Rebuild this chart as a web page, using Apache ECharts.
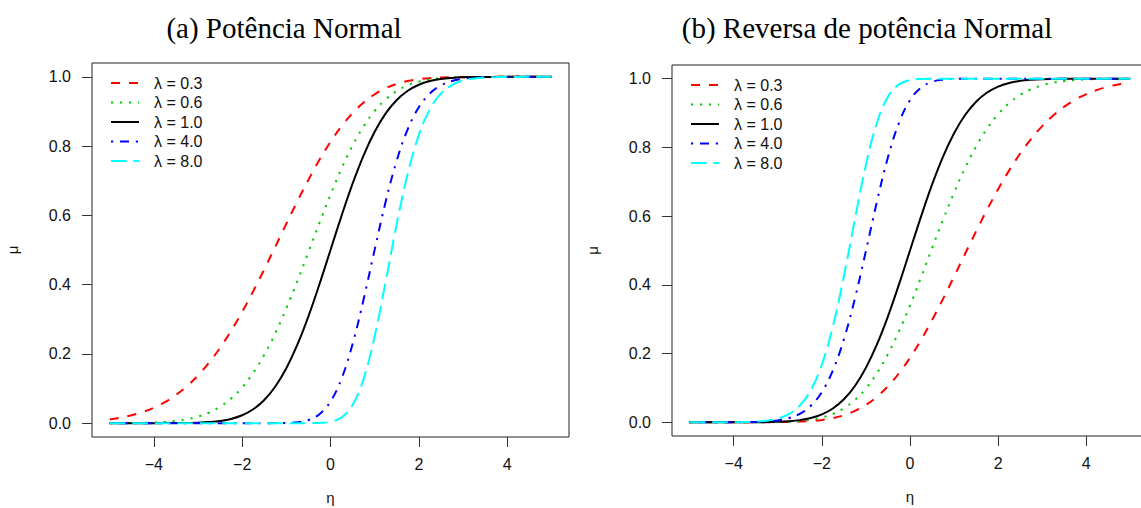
<!DOCTYPE html>
<html><head><meta charset="utf-8">
<script src="https://cdn.jsdelivr.net/npm/echarts@6/dist/echarts.min.js"></script>
<style>html,body{margin:0;padding:0;background:#fff}#c{width:1141px;height:508px}</style>
</head><body><div id="c"></div>
<script>
const eta = [-5,-4.75,-4.5,-4.25,-4,-3.75,-3.5,-3.25,-3,-2.75,-2.5,-2.25,-2,-1.75,-1.5,-1.25,-1,-0.75,-0.5,-0.25,0,0.25,0.5,0.75,1,1.25,1.5,1.75,2,2.25,2.5,2.75,3,3.25,3.5,3.75,4,4.25,4.5,4.75,5];
const lambdaLabels = ['λ = 0.3','λ = 0.6','λ = 1.0','λ = 4.0','λ = 8.0'];
const panelTitles = ['(a) Potência Normal','(b) Reversa de potência Normal'];
const xTicks = [-4,-2,0,2,4];
const yTicks = [0,0.2,0.4,0.6,0.8,1.0];

// Panel (a): Potência Normal
const pn03 = [0.0109,0.0159,0.0229,0.0323,0.0447,0.0608,0.0813,0.1067,0.1378,0.1747,0.2177,0.2668,0.3214,0.3809,0.4441,0.5095,0.5757,0.6407,0.7027,0.7604,0.8123,0.8574,0.8952,0.9258,0.9495,0.9670,0.9795,0.9878,0.9931,0.9963,0.9981,0.9991,0.9996,0.9998,0.9999,1,1,1,1,1,1];
const pn06 = [0.0001,0.0003,0.0005,0.0010,0.0020,0.0037,0.0066,0.0114,0.0190,0.0305,0.0474,0.0712,0.1033,0.1451,0.1972,0.2596,0.3314,0.4105,0.4938,0.5782,0.6598,0.7351,0.8014,0.8571,0.9016,0.9351,0.9594,0.9758,0.9862,0.9926,0.9962,0.9982,0.9992,0.9996,0.9998,0.9999,1,1,1,1,1];
const pn10 = [0,0,0,0,0,0.0001,0.0002,0.0006,0.0013,0.0030,0.0062,0.0122,0.0228,0.0401,0.0668,0.1057,0.1587,0.2266,0.3085,0.4013,0.5000,0.5987,0.6915,0.7734,0.8413,0.8944,0.9332,0.9599,0.9772,0.9878,0.9938,0.9970,0.9987,0.9994,0.9998,0.9999,1,1,1,1,1];
const pn40 = [0,0,0,0,0,0,0,0,0,0,0,0,0,0,0,0.0001,0.0006,0.0026,0.0091,0.0259,0.0625,0.1285,0.2286,0.3577,0.5011,0.6398,0.7584,0.8491,0.9121,0.9520,0.9754,0.9881,0.9946,0.9977,0.9991,0.9996,0.9999,1,1,1,1];
const pn80 = [0,0,0,0,0,0,0,0,0,0,0,0,0,0,0,0,0,0,0.0001,0.0007,0.0039,0.0165,0.0523,0.1280,0.2511,0.4093,0.5751,0.7210,0.8319,0.9063,0.9514,0.9764,0.9893,0.9954,0.9982,0.9993,0.9998,0.9999,1,1,1];

// Panel (b): Reversa de potência Normal
const rpn03 = [0,0,0,0,0,0,0.0001,0.0002,0.0004,0.0009,0.0019,0.0037,0.0069,0.0122,0.0205,0.0330,0.0505,0.0742,0.1048,0.1426,0.1877,0.2396,0.2973,0.3593,0.4243,0.4905,0.5559,0.6191,0.6786,0.7332,0.7823,0.8253,0.8622,0.8933,0.9187,0.9392,0.9553,0.9677,0.9771,0.9841,0.9891];
const rpn06 = [0,0,0,0,0,0.0001,0.0002,0.0004,0.0008,0.0018,0.0038,0.0074,0.0138,0.0242,0.0406,0.0649,0.0984,0.1429,0.1986,0.2649,0.3402,0.4218,0.5062,0.5895,0.6686,0.7404,0.8028,0.8549,0.8967,0.9288,0.9526,0.9695,0.9810,0.9886,0.9934,0.9963,0.9980,0.9990,0.9995,0.9997,0.9999];
const rpn10 = [0,0,0,0,0,0.0001,0.0002,0.0006,0.0013,0.0030,0.0062,0.0122,0.0228,0.0401,0.0668,0.1057,0.1587,0.2266,0.3085,0.4013,0.5000,0.5987,0.6915,0.7734,0.8413,0.8944,0.9332,0.9599,0.9772,0.9878,0.9938,0.9970,0.9987,0.9994,0.9998,0.9999,1,1,1,1,1];
const rpn40 = [0,0,0,0,0.0001,0.0004,0.0009,0.0023,0.0054,0.0119,0.0246,0.0480,0.0879,0.1509,0.2416,0.3602,0.4989,0.6423,0.7714,0.8715,0.9375,0.9741,0.9909,0.9974,0.9994,0.9999,1,1,1,1,1,1,1,1,1,1,1,1,1,1,1];
const rpn80 = [0,0,0,0.0001,0.0002,0.0007,0.0018,0.0046,0.0107,0.0236,0.0486,0.0937,0.1681,0.2790,0.4249,0.5907,0.7489,0.8720,0.9477,0.9835,0.9961,0.9993,0.9999,1,1,1,1,1,1,1,1,1,1,1,1,1,1,1,1,1,1];

const panelSeries = [[pn03,pn06,pn10,pn40,pn80],[rpn03,rpn06,rpn10,rpn40,rpn80]];
const colors = ['#FF0000','#00CD00','#000000','#0000FF','#00FFFF'];
const dashes = [[9,9],[2.2,6.8],'solid',[2.2,6.8,9,6.8],[15.7,6.8]];

const SANS = '"Liberation Sans", Arial, Helvetica, sans-serif';
const SERIF = '"Liberation Serif", "Times New Roman", serif';

const grids = [
  {left: 92, top: 63, width: 477, height: 374},
  {left: 672, top: 65, width: 476, height: 371}
];

function fmtX(v){ return v < 0 ? '\u2212' + Math.abs(v) : String(v); }

const xAxes = [], yAxes = [], series = [], legends = [];
grids.forEach((g, p) => {
  xAxes.push({
    type: 'value', gridIndex: p, min: -5.4, max: 5.4, position: 'bottom',
    name: 'η', nameLocation: 'middle', nameGap: 53,
    nameTextStyle: {fontFamily: SANS, fontSize: 15, color: '#111'},
    axisLine: {show: false, onZero: false},
    axisTick: {show: true, inside: false, length: 10, customValues: xTicks, lineStyle: {color: '#333', width: 1}},
    axisLabel: {show: true, customValues: xTicks, margin: 19, formatter: fmtX, fontFamily: SANS, fontSize: 16, color: '#111'},
    splitLine: {show: false}
  });
  yAxes.push({
    type: 'value', gridIndex: p, min: -0.04, max: 1.04, position: 'left',
    name: 'μ', nameLocation: 'middle', nameGap: 72,
    nameTextStyle: {fontFamily: SANS, fontSize: 15, color: '#111'},
    axisLine: {show: false, onZero: false},
    axisTick: {show: true, inside: false, length: 10, customValues: yTicks, lineStyle: {color: '#333', width: 1}},
    axisLabel: {show: true, customValues: yTicks, margin: 21, formatter: v => v.toFixed(1), fontFamily: SANS, fontSize: 16, color: '#111'},
    splitLine: {show: false}
  });
  panelSeries[p].forEach((arr, i) => {
    series.push({
      type: 'line', name: lambdaLabels[i], xAxisIndex: p, yAxisIndex: p,
      data: eta.map((x, k) => [x, arr[k]]),
      showSymbol: false, symbol: 'none', smooth: 0.4,
      clip: true, silent: true,
      lineStyle: {color: colors[i], width: 2, type: dashes[i], cap: 'butt'},
      itemStyle: {color: colors[i]},
      emphasis: {disabled: true}
    });
  });
  legends.push({
    orient: 'vertical', left: g.left + 13, top: g.top + 7,
    itemWidth: 28, itemHeight: 14, itemGap: 3.5,
    data: lambdaLabels, selectedMode: false,
    itemStyle: {opacity: 0},
    textStyle: {fontFamily: SANS, fontSize: 16, lineHeight: 16, color: '#111', padding: [0, 0, 0, 10]}
  });
});

const chart = echarts.init(document.getElementById('c'), null, {renderer: 'svg'});
chart.setOption({
  animation: false,
  backgroundColor: '#fff',
  grid: grids.map(g => Object.assign({show: true, borderColor: '#222', borderWidth: 1, backgroundColor: 'transparent', containLabel: false, outerBoundsMode: 'none'}, g)),
  xAxis: xAxes,
  yAxis: yAxes,
  legend: legends,
  series: series,
  graphic: [
    {type: 'text', x: 284, y: 28, style: {text: panelTitles[0], font: '29px ' + SERIF, fill: '#000', align: 'center', verticalAlign: 'middle'}},
    {type: 'text', x: 867, y: 28, style: {text: panelTitles[1], font: '29px ' + SERIF, fill: '#000', align: 'center', verticalAlign: 'middle'}}
  ]
});
</script></body></html>
